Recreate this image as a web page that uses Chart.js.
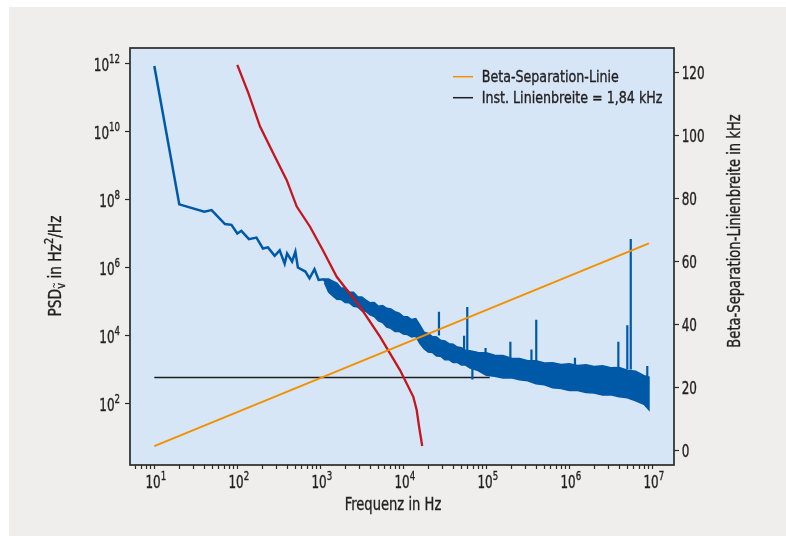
<!DOCTYPE html>
<html>
<head>
<meta charset="utf-8">
<script src="https://cdn.jsdelivr.net/npm/chart.js@4.4.1/dist/chart.umd.min.js"></script>
<style>
  html, body { margin: 0; padding: 0; background: #fff; }
  #wrap { width: 786px; height: 536px; }
</style>
</head>
<body>
<div id="wrap"><canvas id="psdChart" width="786" height="536"></canvas></div>
<script>
// ---- values ----

// PSD, single trace part (Hz, Hz^2/Hz)
const blueFreq = [10, 20, 40, 49, 71, 85, 100, 112, 138, 170, 204, 234, 282, 324, 372, 398, 457, 501, 537, 661, 741, 851, 955, 1096, 1259];
const bluePsd  = [8.5e11, 7.2e7, 4.4e7, 4.9e7, 1.9e7, 1.8e7, 1.0e7, 1.2e7, 6.8e6, 7.6e6, 3.6e6, 3.9e6, 2.2e6, 3.2e6, 1.3e6, 2.6e6, 1.5e6, 2.9e6, 1.0e6, 7.6e5, 4.8e5, 8.9e5, 4.3e5, 4.5e5, 3.1e5];

// PSD, noisy band part: upper and lower envelope
const bandFreq  = [1122, 1259, 1413, 1585, 1778, 1995, 2239, 2512, 2818, 3162, 3548, 3981, 4467, 5012, 5623, 6310, 7079, 7943, 8913, 10000,
                   11220, 12590, 14130, 15850, 17780, 19950, 22390, 25120, 28180, 31620, 35480, 39810, 44670, 50120, 56230, 63100, 79430,
                   1.0e5, 1.259e5, 1.585e5, 1.995e5, 2.512e5, 3.162e5, 3.981e5, 5.012e5, 6.310e5, 7.943e5,
                   1.0e6, 1.259e6, 1.585e6, 1.995e6, 2.512e6, 3.162e6, 3.981e6, 5.012e6, 6.310e6, 7.943e6, 9.12e6];
const bandUpper = [4.6e5, 4.57e5, 3.98e5, 3.47e5, 2.51e5, 2.51e5, 1.91e5, 1.86e5, 1.38e5, 1.35e5, 1.10e5, 9.12e4, 9.33e4, 7.24e4, 7.59e4, 6.31e4, 6.03e4, 5.01e4, 4.57e4, 3.63e4,
                   3.55e4, 2.95e4, 3.16e4, 2.0e4, 1.26e4, 1.15e4, 9.33e3, 9.12e3, 7.24e3, 6.92e3, 5.75e3, 5.5e3, 4.57e3, 4.37e3, 3.63e3, 3.55e3, 3.16e3,
                   3.09e3, 2.63e3, 2.57e3, 2.14e3, 2.09e3, 1.82e3, 1.82e3, 1.55e3, 1.58e3, 1.41e3,
                   1.48e3, 1.32e3, 1.38e3, 1.23e3, 1.29e3, 1.12e3, 1.15e3, 955, 891, 661, 603];
const bandLower = [3.6e5, 1.9e5, 1.45e5, 1.17e5, 1.15e5, 9.33e4, 9.12e4, 7.24e4, 6.92e4, 5.37e4, 5.13e4, 4.07e4, 3.63e4, 2.69e4, 2.40e4, 1.78e4, 1.62e4, 1.32e4, 1.32e4, 1.10e4,
                   1.07e4, 9.12e3, 9.55e3, 5.75e3, 4.07e3, 3.24e3, 3.16e3, 2.51e3, 2.45e3, 1.95e3, 1.95e3, 1.62e3, 1.62e3, 1.35e3, 1.35e3, 1.12e3, 933,
                   676, 631, 562, 575, 501, 468, 380, 355, 288, 275,
                   240, 240, 209, 204, 178, 182, 158, 148, 120, 95, 65];

// single spikes in the PSD
const spikeFreq = [2.69e4, 5.4e4, 5.9e4, 6.8e4, 9.8e4, 1.95e5, 3.5e5, 4.0e5, 1.17e6, 3.9e6, 5.0e6, 5.5e6, 8.7e6];
const spikeBase = [1.0e4, 3.0e3, 3.0e3, 2.0e3, 2.5e3, 2.0e3, 1.5e3, 1.5e3, 1.0e3, 1.0e3, 1.0e3, 1.0e3, 5.0e2];
const spikeTip  = [5.0e4, 9.8e3, 6.9e4, 5.1e2, 4.3e3, 6.6e3, 3.9e3, 2.9e4, 2.2e3, 6.6e3, 2.0e4, 6.9e6, 1.26e3];

// beta separation line (left axis)
const betaFreq = [10, 9.1e6];
const betaPsd  = [5.6, 5.1e6];

// instantaneous linewidth marker (left axis)
const instFreq = [10, 1.1e5];
const instPsd  = [582, 582];

// beta separation linewidth vs. cutoff (right axis, kHz)
const widthFreq = [100, 136, 188, 271, 394, 520, 752, 1070, 1577, 3010, 5240, 9120, 13200, 14500, 15500, 16900];
const widthKhz  = [122.5, 113.5, 102.9, 94.4, 85.9, 77.5, 71.1, 63.7, 55.2, 45.7, 36.2, 25.6, 17.1, 12.9, 7.6, 1.5];

// ticks
const xTickValues = [1e1, 1e2, 1e3, 1e4, 1e5, 1e6, 1e7];
const xTickLabels = ['10^1', '10^2', '10^3', '10^4', '10^5', '10^6', '10^7'];
const yTickValues = [1e2, 1e4, 1e6, 1e8, 1e10, 1e12];
const yTickLabels = ['10^2', '10^4', '10^6', '10^8', '10^10', '10^12'];
const y2TickValues = [0, 20, 40, 60, 80, 100, 120];

const legendLabels = ['Beta-Separation-Linie', 'Inst. Linienbreite = 1,84 kHz'];
const xTitle = 'Frequenz in Hz';
const y2Title = 'Beta-Separation-Linienbreite in kHz';

// ---- styling ----
const FONT = "'DejaVu Sans Condensed', 'DejaVu Sans', sans-serif";
const TEXT = '#231f20';
const AXIS = '#2b2b2b';
const BLUE = '#0059a6';
const RED = '#c4161c';
const ORANGE = '#f29100';
const BLACK = '#1d1d1b';

Chart.defaults.font.family = FONT;
Chart.defaults.color = TEXT;

// axis ranges (pixel-matched to the figure)
const X_MIN = 5.095, X_MAX = 1.826e7;
const Y_MIN = 1.553, Y_MAX = 2.858e12;
const Y2_MIN = -4.54, Y2_MAX = 127.84;

// x ticks: labelled decades plus unlabelled minor ticks
const xTicks = [];
for (let e = 0; e <= 7; e++) {
    for (let m = 1; m <= 9; m++) {
        const v = m * Math.pow(10, e);
        if (v < X_MIN || v > X_MAX) continue;
        xTicks.push(v);
    }
}

const pts = (xs, ys) => xs.map((x, i) => ({ x, y: ys[i] }));

// band as closed shape: upper left->right, lower right->left
const bandShape = pts(bandFreq, bandUpper).concat(pts(bandFreq, bandLower).reverse());

const spikePts = [];
spikeFreq.forEach((f, i) => {
    spikePts.push({ x: f, y: spikeBase[i] }, { x: f, y: spikeTip[i] }, { x: f, y: null });
});

const lineDefaults = { pointRadius: 0, tension: 0, fill: false };

// first dataset is drawn on top
const datasets = [
    { ...lineDefaults, label: legendLabels[0], data: pts(betaFreq, betaPsd), borderColor: ORANGE, borderWidth: 2, yAxisID: 'y' },
    { ...lineDefaults, label: 'width', data: pts(widthFreq, widthKhz), borderColor: RED, borderWidth: 2.3, yAxisID: 'y2' },
    { ...lineDefaults, label: 'spikes', data: spikePts, borderColor: BLUE, borderWidth: 2.2, spanGaps: false, yAxisID: 'y' },
    { ...lineDefaults, label: 'psd', data: pts(blueFreq, bluePsd), borderColor: BLUE, borderWidth: 2.5, yAxisID: 'y' },
    { ...lineDefaults, label: 'band', data: bandShape, borderColor: BLUE, backgroundColor: BLUE, borderWidth: 1.5, fill: 'shape', yAxisID: 'y' },
    { ...lineDefaults, label: legendLabels[1], data: pts(instFreq, instPsd), borderColor: BLACK, borderWidth: 1.3, yAxisID: 'y' }
];
const legendColors = [ORANGE, BLACK];

// text made of parts (sup / sub), squeezed horizontally to mimic the condensed face;
// y is the vertical middle of the capitals / digits
function drawParts(ctx, parts, x, y, o) {
    const size = o.size, sq = o.squeeze || 1;
    const fontFor = p => ((p.sup || p.sub) ? size * 0.72 : size) + 'px ' + FONT;
    ctx.save();
    ctx.translate(x, y);
    if (o.rot) ctx.rotate(o.rot);
    ctx.scale(sq, 1);
    let w = 0;
    parts.forEach(p => { ctx.font = fontFor(p); p.w = ctx.measureText(p.t).width; w += p.w; });
    let cx = o.align === 'right' ? -w : (o.align === 'left' ? 0 : -w / 2);
    ctx.fillStyle = TEXT;
    ctx.strokeStyle = TEXT;
    ctx.lineWidth = 0.35;
    ctx.textAlign = 'left';
    ctx.textBaseline = 'alphabetic';
    const base = size * 0.36;
    parts.forEach(p => {
        ctx.font = fontFor(p);
        const dy = p.sub ? size * 0.24 : (p.sup ? -size * 0.47 : 0);
        ctx.fillText(p.t, cx, base + dy);
        ctx.strokeText(p.t, cx, base + dy);
        if (p.tilde) {
            ctx.font = (size * 0.55) + 'px ' + FONT;
            ctx.fillText('~', cx + p.w * 0.05, base + dy - size * 0.4);
        }
        cx += p.w;
    });
    ctx.restore();
}

const powParts = lbl => {
    const [b, e] = lbl.split('^');
    return [{ t: b }, { t: e, sup: true }];
};

const figurePlugin = {
    id: 'figure',
    beforeDraw(chart) {
        const { ctx, chartArea: a } = chart;
        ctx.save();
        ctx.fillStyle = '#ffffff';
        ctx.fillRect(0, 0, chart.width, chart.height);
        ctx.fillStyle = '#efeeec';
        ctx.fillRect(9, 7, chart.width - 9, chart.height - 7);
        ctx.fillStyle = '#d6e6f7';
        ctx.fillRect(a.left, a.top, a.right - a.left, a.bottom - a.top);
        ctx.restore();
    },
    afterDraw(chart) {
        const { ctx, chartArea: a, scales } = chart;
        ctx.save();
        ctx.strokeStyle = AXIS;
        ctx.lineWidth = 1.7;
        ctx.strokeRect(a.left, a.top, a.right - a.left, a.bottom - a.top);

        // legend inside the plot area
        legendLabels.forEach((lbl, i) => {
            const y = a.top + 28.7 + i * 21;
            ctx.strokeStyle = legendColors[i];
            ctx.lineWidth = 1.5;
            ctx.beginPath();
            ctx.moveTo(a.left + 323, y);
            ctx.lineTo(a.left + 343, y);
            ctx.stroke();
        });
        ctx.restore();
        legendLabels.forEach((lbl, i) => {
            drawParts(ctx, [{ t: lbl }], a.left + 351.7, a.top + 28.5 + i * 21, { size: 16, squeeze: 0.88, align: 'left' });
        });

        // tick labels at the library's tick positions
        xTickValues.forEach((v, i) => {
            drawParts(ctx, powParts(xTickLabels[i]), scales.x.getPixelForValue(v) + 1.5, 481.7, { size: 18, squeeze: 0.74 });
        });
        yTickValues.forEach((v, i) => {
            drawParts(ctx, powParts(yTickLabels[i]), a.left - 10, scales.y.getPixelForValue(v) + 1, { size: 18, squeeze: 0.74, align: 'right' });
        });
        y2TickValues.forEach(v => {
            drawParts(ctx, [{ t: String(v) }], a.right + 7.7, scales.y2.getPixelForValue(v), { size: 18, squeeze: 0.74, align: 'left' });
        });

        // axis titles
        drawParts(ctx, [{ t: xTitle }], 393, 503.5, { size: 18, squeeze: 0.81 });
        drawParts(ctx, [{ t: 'PSD' }, { t: 'v', sub: true, tilde: true }, { t: ' in Hz' }, { t: '2', sup: true }, { t: '/Hz' }],
            54.5, 266, { size: 18, squeeze: 0.85, rot: -Math.PI / 2 });
        drawParts(ctx, [{ t: y2Title }], 734, 231, { size: 18, squeeze: 0.81, rot: -Math.PI / 2 });
    }
};

const tickGrid = len => ({ drawOnChartArea: false, drawTicks: true, tickLength: len, tickColor: AXIS, tickWidth: 1.2 });

new Chart(document.getElementById('psdChart'), {
    type: 'line',
    data: { datasets },
    options: {
        responsive: false,
        animation: false,
        layout: { padding: { left: 9, top: 48, right: 0, bottom: 0 } },
        plugins: { legend: { display: false }, tooltip: { enabled: false } },
        scales: {
            x: {
                type: 'logarithmic',
                position: 'bottom',
                min: X_MIN,
                max: X_MAX,
                afterFit: s => { s.height = 71; },
                afterBuildTicks: s => { s.ticks = xTicks.map(v => ({ value: v })); },
                ticks: { display: false, autoSkip: false },
                grid: tickGrid(4),
                border: { display: false }
            },
            y: {
                type: 'logarithmic',
                position: 'left',
                min: Y_MIN,
                max: Y_MAX,
                afterFit: s => { s.width = 121; },
                afterBuildTicks: s => { s.ticks = yTickValues.map(v => ({ value: v })); },
                ticks: { display: false, autoSkip: false },
                grid: tickGrid(5),
                border: { display: false }
            },
            y2: {
                type: 'linear',
                position: 'right',
                min: Y2_MIN,
                max: Y2_MAX,
                afterFit: s => { s.width = 112; },
                afterBuildTicks: s => { s.ticks = y2TickValues.map(v => ({ value: v })); },
                ticks: { display: false, autoSkip: false },
                grid: tickGrid(5),
                border: { display: false }
            }
        }
    },
    plugins: [figurePlugin]
});
</script>
</body>
</html>
